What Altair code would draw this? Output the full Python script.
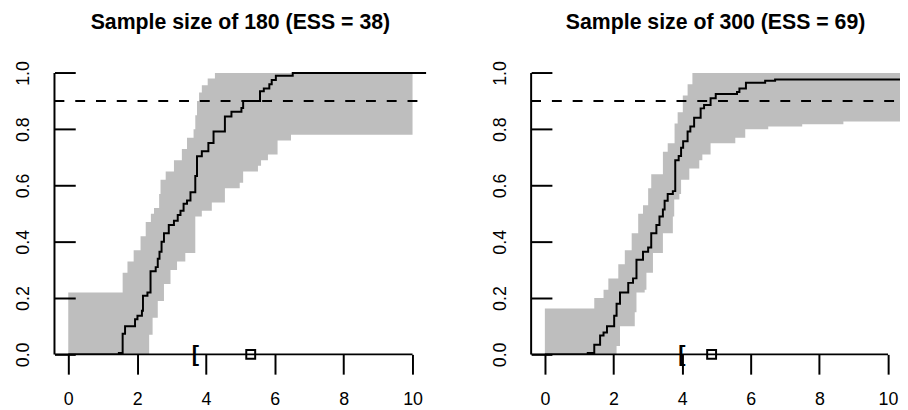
import altair as alt
import pandas as pd

TITLES = ["Sample size of 180 (ESS = 38)", "Sample size of 300 (ESS = 69)"]
X_TICKS = [0, 2, 4, 6, 8, 10]
Y_TICKS = [0.0, 0.2, 0.4, 0.6, 0.8, 1.0]
THRESHOLD = 0.9

# ---- left panel (n = 180) ----
ecdf1_x = [-0.4, 1.47, 1.58, 1.65, 1.94, 2.01, 2.14, 2.17, 2.30, 2.39, 2.54, 2.60,
           2.65, 2.71, 2.78, 2.92, 3.07, 3.18, 3.26, 3.35, 3.45, 3.55, 3.69, 3.74,
           3.88, 4.07, 4.22, 4.55, 4.74, 5.03, 5.08, 5.57, 5.68, 5.84, 5.91, 6.03,
           6.52, 10.4]
ecdf1_y = [0.0, 0.005, 0.073, 0.10, 0.125, 0.137, 0.155, 0.208, 0.22, 0.295, 0.31, 0.34,
           0.365, 0.40, 0.43, 0.46, 0.475, 0.495, 0.51, 0.535, 0.547, 0.576, 0.634, 0.704,
           0.722, 0.751, 0.792, 0.845, 0.862, 0.875, 0.90, 0.935, 0.945, 0.96, 0.975, 0.99,
           1.0, 1.0]
up1_x = [0, 1.58, 1.72, 1.90, 2.10, 2.25, 2.40, 2.49, 2.64, 2.68, 2.83, 3.07, 3.30,
         3.45, 3.64, 3.69, 3.74, 3.80, 3.88, 4.05, 4.26, 10]
up1_y = [0.22, 0.29, 0.33, 0.37, 0.42, 0.47, 0.50, 0.52, 0.57, 0.62, 0.65, 0.69, 0.73,
         0.77, 0.80, 0.85, 0.90, 0.93, 0.956, 0.98, 1.0, 1.0]
lo1_x = [0, 2.35, 2.45, 2.60, 2.78, 2.97, 3.16, 3.40, 3.69, 3.88, 4.17, 4.55, 4.98,
         5.08, 5.51, 5.60, 5.80, 6.08, 6.47, 10]
lo1_y = [0.0, 0.07, 0.13, 0.19, 0.25, 0.30, 0.33, 0.36, 0.49, 0.51, 0.54, 0.59, 0.61,
         0.65, 0.67, 0.69, 0.71, 0.76, 0.78, 0.78]
bracket1 = 3.69
square1 = 5.30

# ---- right panel (n = 300) ----
ecdf2_x = [-0.4, 1.25, 1.44, 1.61, 1.71, 1.81, 2.02, 2.09, 2.19, 2.43, 2.57, 2.67,
           2.86, 3.01, 3.10, 3.25, 3.34, 3.44, 3.49, 3.58, 3.73, 3.80, 3.90, 3.97,
           4.03, 4.16, 4.24, 4.35, 4.54, 4.64, 4.83, 4.98, 5.60, 5.67, 5.86, 6.42,
           6.71, 10.4]
ecdf2_y = [0.0, 0.005, 0.034, 0.067, 0.078, 0.10, 0.137, 0.18, 0.22, 0.254, 0.27, 0.336,
           0.365, 0.38, 0.43, 0.46, 0.49, 0.515, 0.546, 0.57, 0.58, 0.69, 0.705, 0.734,
           0.757, 0.792, 0.81, 0.841, 0.874, 0.886, 0.91, 0.925, 0.932, 0.945, 0.965, 0.972,
           0.977, 0.977]
up2_x = [0, 1.44, 1.71, 1.85, 2.14, 2.33, 2.53, 2.72, 2.86, 3.01, 3.10, 3.44, 3.58,
         3.78, 3.87, 4.02, 4.16, 4.30, 10.4]
up2_y = [0.163, 0.20, 0.23, 0.27, 0.32, 0.37, 0.43, 0.50, 0.53, 0.59, 0.64, 0.72, 0.75,
         0.82, 0.86, 0.92, 0.96, 1.0, 1.0]
lo2_x = [0, 2.09, 2.19, 2.62, 2.67, 2.91, 2.96, 3.15, 3.44, 3.73, 3.77, 3.92, 3.97,
         4.21, 4.50, 4.59, 4.83, 5.55, 5.84, 6.51, 7.5, 8.7, 10.4]
lo2_y = [0.0, 0.03, 0.10, 0.15, 0.22, 0.23, 0.29, 0.36, 0.43, 0.49, 0.55, 0.57, 0.62,
         0.66, 0.69, 0.71, 0.75, 0.77, 0.80, 0.81, 0.818, 0.827, 0.84]
bracket2 = 3.99
square2 = 4.86

FONT = "Liberation Sans"
GRAY = "#BEBEBE"


def step_lookup(xs, ys, x):
    val = ys[0]
    for xi, yi in zip(xs, ys):
        if xi <= x:
            val = yi
    return val


def band_table(ux, uy, lx, ly):
    grid = sorted(set(ux) | set(lx))
    return pd.DataFrame({
        "x": grid,
        "up": [step_lookup(ux, uy, g) for g in grid],
        "lo": [step_lookup(lx, ly, g) for g in grid],
    })


def panel(title, ex, ey, ux, uy, lx, ly, br, sq, xmax, width):
    xs = alt.Scale(domain=[-0.4, xmax], nice=False, zero=False)
    ys = alt.Scale(domain=[0, 1.04], nice=False, zero=False)
    xaxis = alt.Axis(values=X_TICKS, format="d", domain=False, grid=False,
                     tickSize=20, tickWidth=2, tickColor="black",
                     labelFont=FONT, labelFontSize=18, labelColor="black",
                     labelPadding=17, labelFlush=False, title=None, zindex=1)
    yaxis = alt.Axis(values=Y_TICKS, format=".1f", domain=False, grid=False,
                     tickSize=21, tickWidth=2, tickColor="black", offset=-21,
                     labelAngle=270, labelAlign="center", labelBaseline="bottom",
                     labelFont=FONT, labelFontSize=18, labelColor="black",
                     labelPadding=22, labelFlush=False, title=None, zindex=1)

    band = alt.Chart(band_table(ux, uy, lx, ly)).mark_area(
        interpolate="step-after", color=GRAY, clip=True
    ).encode(
        x=alt.X("x:Q", scale=xs, axis=xaxis),
        y=alt.Y("up:Q", scale=ys, axis=yaxis),
        y2="lo:Q",
    )

    frame = pd.DataFrame({"x": [-0.4, X_TICKS[0]], "x2": [-0.4, X_TICKS[-1]],
                          "y": [0.0, 0.0], "y2": [1.0, 0.0]})
    frame_rules = alt.Chart(frame).mark_rule(color="black", strokeWidth=2).encode(
        x=alt.X("x:Q", scale=xs), x2="x2:Q",
        y=alt.Y("y:Q", scale=ys), y2="y2:Q",
    )

    dash = alt.Chart(pd.DataFrame({"x": [-0.4], "x2": [10.4], "y": [THRESHOLD]})).mark_rule(
        color="black", strokeWidth=2, strokeDash=[10, 11], clip=True
    ).encode(x=alt.X("x:Q", scale=xs), x2="x2:Q", y=alt.Y("y:Q", scale=ys))

    line = alt.Chart(pd.DataFrame({"x": ex, "y": ey})).mark_line(
        interpolate="step-after", color="black", strokeWidth=2, clip=True
    ).encode(x=alt.X("x:Q", scale=xs), y=alt.Y("y:Q", scale=ys))

    brk = alt.Chart(pd.DataFrame({"x": [br], "y": [0.0]})).mark_text(
        text="[", font=FONT, fontSize=22, fontWeight="bold", color="black",
        align="center", baseline="middle"
    ).encode(x=alt.X("x:Q", scale=xs), y=alt.Y("y:Q", scale=ys))

    sqr = alt.Chart(pd.DataFrame({"x": [sq], "y": [0.0]})).mark_point(
        shape="square", size=81, filled=False, stroke="black", strokeWidth=2, opacity=1
    ).encode(x=alt.X("x:Q", scale=xs), y=alt.Y("y:Q", scale=ys))

    ttl = alt.Chart(pd.DataFrame({"t": [title]})).mark_text(
        font=FONT, fontSize=21.5, fontWeight="bold", color="black",
        align="center", baseline="alphabetic"
    ).encode(text="t:N", x=alt.value(width / 2), y=alt.value(-32.8))

    return alt.layer(band, dash, line, frame_rules, brk, sqr, ttl).properties(
        width=width, height=296
    )


left = panel(TITLES[0], ecdf1_x, ecdf1_y, up1_x, up1_y, lo1_x, lo1_y,
             bracket1, square1, 10.4, 376)
right = panel(TITLES[1], ecdf2_x, ecdf2_y, up2_x, up2_y, lo2_x, lo2_y,
              bracket2, square2, 10.35, 373)

chart = alt.hconcat(left, right, spacing=65).properties(
    padding={"left": 6, "top": 2, "right": 0, "bottom": 0},
    background="white",
).configure_view(stroke=None)

chart.save("out.html", embed_options={"renderer": "svg", "actions": False})
